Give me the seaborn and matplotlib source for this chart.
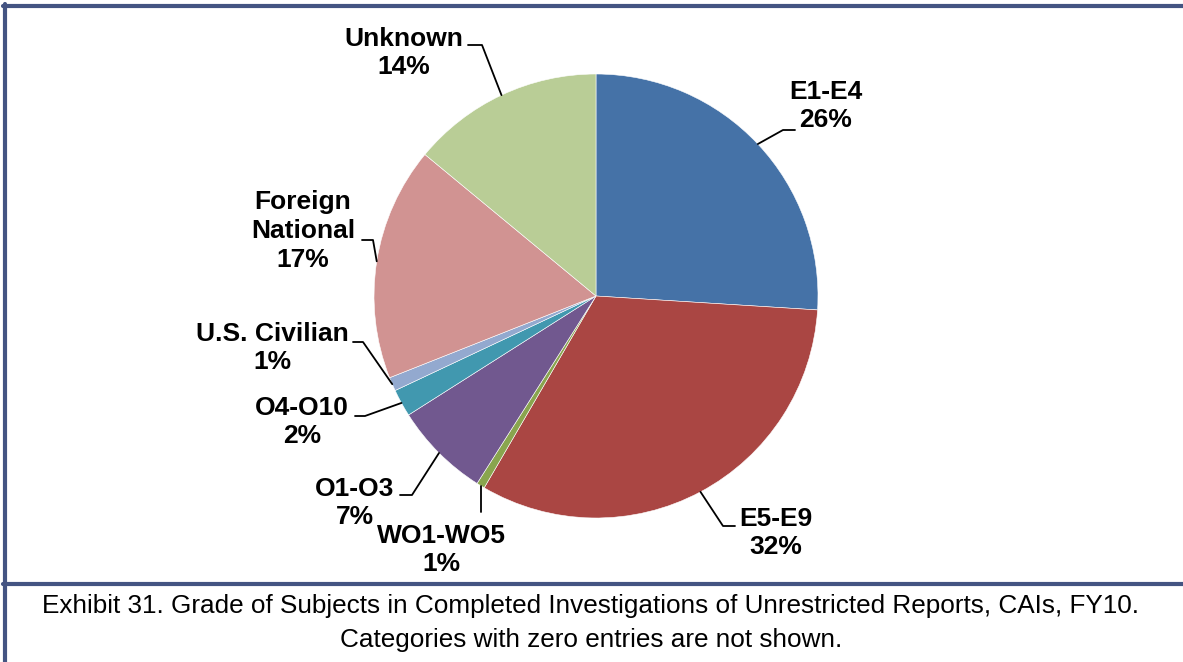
import numpy as np
import matplotlib
matplotlib.use('Agg')
import matplotlib.pyplot as plt
from matplotlib.lines import Line2D
import seaborn as sns

# Datos
categorias = ['E1-E4', 'E5-E9', 'WO1-WO5', 'O1-O3', 'O4-O10',
              'U.S. Civilian', 'Foreign\nNational', 'Unknown']
valores = [26.0, 32.4, 0.6, 7.0, 2.0, 1.0, 17.0, 14.0]
colores = ['#4572A7', '#AA4643', '#89A54E', '#71588F', '#4198AF',
           '#93A9CF', '#D19392', '#B9CD96']
titulo = ('Exhibit 31. Grade of Subjects in Completed Investigations of '
          'Unrestricted Reports, CAIs, FY10.\nCategories with zero entries are not shown.')

sns.set_theme(style='white')
plt.rcParams['font.family'] = ['Liberation Sans', 'DejaVu Sans']
plt.rcParams['text.color'] = 'black'

W, H = 1183, 662
CX, CY, R = 596, 296, 222
fig = plt.figure(figsize=(W / 100, H / 100), dpi=100)
ax = fig.add_axes([(CX - R) / W, (H - CY - R) / H, 2 * R / W, 2 * R / H])

wedges, _ = ax.pie(valores, colors=colores, startangle=90, counterclock=False,
                   radius=1, wedgeprops=dict(edgecolor='white', linewidth=0.4))
ax.set_xlim(-1, 1)
ax.set_ylim(-1, 1)
ax.set_aspect('equal')
ax.axis('off')


def px(x, y):
    # pixel -> coordenadas de datos
    return (x - CX) / R, (CY - y) / R


# posicion del bloque de texto y codo de la linea guia (en pixeles)
texto_pos = [(826, 106), (776, 533), (441, 550), (355, 503), (302, 422),
             (272, 348), (303, 231), (404, 53)]
guia = [[(783, 130), (795, 130)],
        [(723, 526), (735, 526)],
        [(None, 512)],
        [(412, 495), (400, 495)],
        [(365, 416), (355, 416)],
        [(363, 342), (353, 342)],
        [(373, 240), (362, 240)],
        [(482, 45), (468, 45)]]

for w, cat, v, tp, g in zip(wedges, categorias, valores, texto_pos, guia):
    ang = np.deg2rad((w.theta1 + w.theta2) / 2)
    ex, ey = np.cos(ang), np.sin(ang)
    xs, ys = [ex], [ey]
    for gx, gy in g:
        dx, dy = px(gx if gx is not None else CX + ex * R, gy)
        xs.append(dx)
        ys.append(dy)
    ax.plot(xs, ys, color='black', lw=1.3, clip_on=False)
    tx, ty = px(*tp)
    ax.text(tx, ty, f'{cat}\n{round(v)}%', ha='center', va='center', color='black',
            fontsize=19, fontweight='bold', linespacing=1.25, clip_on=False)

# Marco
marco = '#445482'
fig.add_artist(Line2D([3 / W, 1], [1 - 5.5 / H, 1 - 5.5 / H], color=marco, lw=3))
fig.add_artist(Line2D([4.5 / W, 4.5 / W], [0, 1 - 4 / H], color=marco, lw=3))
fig.add_artist(Line2D([3 / W, 1], [1 - 584 / H, 1 - 584 / H], color=marco, lw=3))

fig.text(591 / W, 1 - 623 / H, titulo, ha='center', va='center', color='black',
         fontsize=18.8, linespacing=1.55)

fig.savefig('out.png', dpi=100)
